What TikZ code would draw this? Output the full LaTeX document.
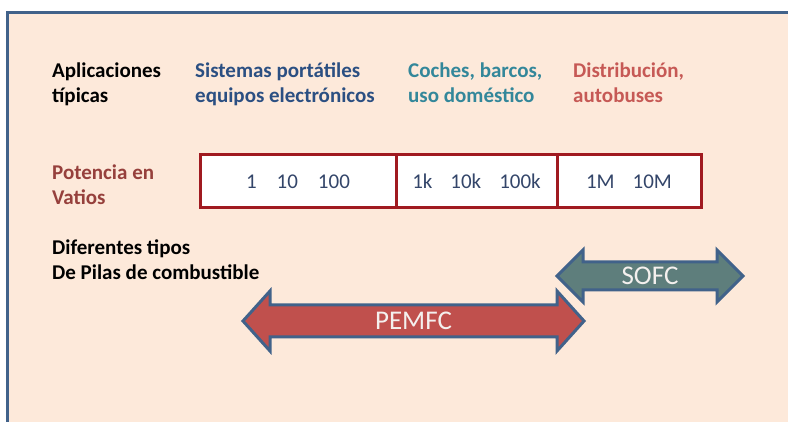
\documentclass[tikz,border=0pt]{standalone}
\usepackage{fontspec}
\setmainfont{Carlito}
\definecolor{pagebg}{HTML}{FDE9DA}
\definecolor{framec}{HTML}{41628A}
\definecolor{sistblue}{HTML}{2B4F82}
\definecolor{cochteal}{HTML}{33879A}
\definecolor{distred}{HTML}{C65955}
\definecolor{potred}{HTML}{96403C}
\definecolor{cellred}{HTML}{A01A20}
\definecolor{numblue}{HTML}{34466A}
\definecolor{pemfcfill}{HTML}{C0504D}
\definecolor{sofcfill}{HTML}{5E7E7C}
\definecolor{arrowtxt}{HTML}{F4F0EE}
\begin{document}
\begin{tikzpicture}[x=1pt,y=-1pt,
  heading/.style={anchor=base west, inner sep=0pt, align=left,
    font=\bfseries\fontsize{21}{25}\selectfont},
  cell/.style={draw=cellred, line width=3pt, fill=white, inner sep=0pt,
    text=numblue, font=\fontsize{21}{25}\selectfont},
  band/.style={draw=framec, line width=3pt, line join=miter},
  bandtext/.style={inner sep=0pt, text=arrowtxt, font=\fontsize{27}{31}\selectfont}]
\useasboundingbox (0,0) rectangle (788,422);
% page and frame
\fill[white] (0,0) rectangle (788,422);
\fill[pagebg] (7.5,12.5) rectangle (788,422);
\draw[framec, line width=3pt] (7.5,422) -- (7.5,12.5) -- (788,12.5);

% headings (anchored on the baseline of their last line)
\node[heading, text=black] (apl) at (52,103) {Aplicaciones\\típicas};
\node[heading, text=sistblue] (port) at (195,103) {Sistemas portátiles\\equipos electrónicos};
\node[heading, text=cochteal] (coch) at (408,103) {Coches, barcos,\\uso doméstico};
\node[heading, text=distred] (dist) at (573,103) {Distribución,\\autobuses};
\node[heading, text=potred] (pot) at (52,205) {Potencia en\\Vatios};
\node[heading, text=black] (tipos) at (52,280) {Diferentes tipos\\De Pilas de combustible};

% power scale
\node[cell, minimum width=196pt, minimum height=53pt] (w1) at (298,181.5)
  {1\hspace{20pt}10\hspace{20pt}100};
\node[cell, minimum width=161pt, minimum height=53pt] (w2) at (476.5,181.5)
  {1k\hspace{18pt}10k\hspace{18pt}100k};
\node[cell, minimum width=144pt, minimum height=53pt] (w3) at (629,181.5)
  {1M\hspace{18pt}10M};

% fuel cell ranges
\draw[band, fill=sofcfill] (557,276) -- (583,250) -- (583,262) -- (717,262)
  -- (717,250) -- (743,276) -- (717,302) -- (717,290) -- (583,290)
  -- (583,302) -- cycle;
\node[bandtext] (sofc) at (650,276) {SOFC};
\draw[band, fill=pemfcfill] (243,321) -- (270,291) -- (270,305) -- (557,305)
  -- (557,291) -- (584,321) -- (557,351) -- (557,337) -- (270,337)
  -- (270,351) -- cycle;
\node[bandtext] (pemfc) at (413.5,321) {PEMFC};
\end{tikzpicture}
\end{document}
